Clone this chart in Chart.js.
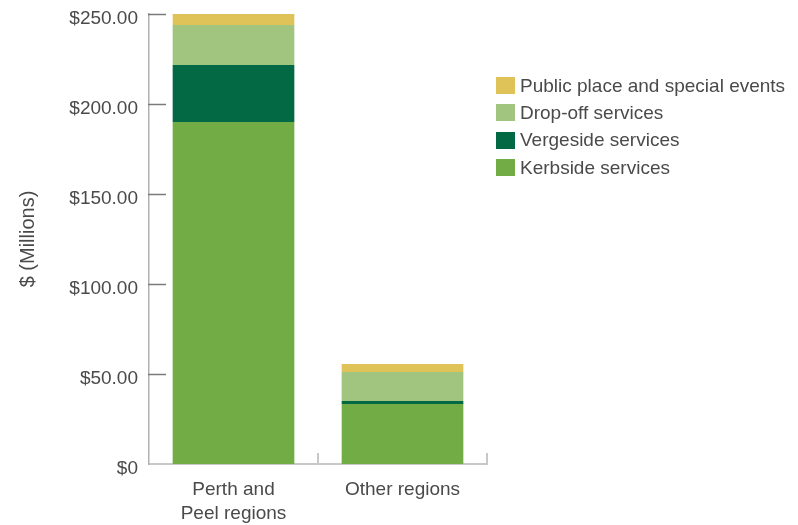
<!DOCTYPE html>
<html>
<head>
<meta charset="utf-8">
<script src="https://cdn.jsdelivr.net/npm/chart.js@4/dist/chart.umd.min.js"></script>
<style>
    html, body { margin: 0; padding: 0; background: #ffffff; }
    #wrap { position: relative; width: 798px; height: 525px; }
    #legend { position: absolute; left: 496px; top: 72px; font-family: "Liberation Sans", Arial, sans-serif; font-size: 19px; color: #4a4a4a; }
    #legend .item { display: flex; align-items: center; height: 27.3px; }
    #legend .box { width: 19px; height: 17px; margin-right: 5px; }
</style>
</head>
<body>
<div id="wrap">
    <canvas id="chartCanvas" width="798" height="525"></canvas>
    <div id="legend"></div>
</div>
<script>
const categories = [['Perth and', 'Peel regions'], 'Other regions'];
const kerbside = [190.0, 33.3];
const vergeside = [31.7, 1.7];
const dropOff = [22.2, 16.1];
const publicPlace = [6.1, 4.4];
const yTicks = [0, 50, 100, 150, 200, 250];

const textColor = '#4a4a4a';
const font = { family: '"Liberation Sans", Arial, sans-serif', size: 19, lineHeight: 1.26 };

const datasets = [
    { label: 'Kerbside services', data: kerbside, backgroundColor: '#72ac44' },
    { label: 'Vergeside services', data: vergeside, backgroundColor: '#036844' },
    { label: 'Drop-off services', data: dropOff, backgroundColor: '#a1c57f' },
    { label: 'Public place and special events', data: publicPlace, backgroundColor: '#dfc258' }
];

// short tick marks drawn inward from the axes
const axisMarks = {
    id: 'axisMarks',
    afterDraw(c) {
        const ctx = c.ctx;
        const area = c.chartArea;
        const y = c.scales.y;
        const x = c.scales.x;
        ctx.save();
        ctx.strokeStyle = '#7a7a7a';
        ctx.lineWidth = 1.5;
        yTicks.forEach(v => {
            if (v === 0) return;
            const py = Math.round(y.getPixelForValue(v)) + 0.5;
            ctx.beginPath();
            ctx.moveTo(area.left - 1, py);
            ctx.lineTo(area.left + 17, py);
            ctx.stroke();
        });
        ctx.strokeStyle = '#c8c8c8';
        ctx.lineWidth = 2;
        categories.forEach((_, i) => {
            const px = Math.round(x.getPixelForValue(i + 0.5));
            ctx.beginPath();
            ctx.moveTo(px, area.bottom);
            ctx.lineTo(px, area.bottom - 11);
            ctx.stroke();
        });
        ctx.restore();
    }
};

function noOverflow(s) {
    s.paddingTop = 0;
    s.paddingBottom = 0;
    s.paddingLeft = 0;
    s.paddingRight = 0;
}

const chart = new Chart(document.getElementById('chartCanvas').getContext('2d'), {
    type: 'bar',
    data: { labels: categories, datasets: datasets },
    options: {
        responsive: false,
        animation: false,
        layout: { padding: { top: 14, right: 311, left: 0, bottom: 0 } },
        datasets: { bar: { categoryPercentage: 1, barPercentage: 0.72 } },
        plugins: { legend: { display: false }, tooltip: { enabled: false } },
        scales: {
            x: {
                stacked: true,
                grid: { display: false },
                border: { display: true, color: '#c8c8c8', width: 2 },
                ticks: { color: textColor, font: font, padding: 6, maxRotation: 0 },
                afterFit(s) { s.height = 61; noOverflow(s); }
            },
            y: {
                stacked: true,
                min: 0,
                max: 250,
                grid: { display: false, drawTicks: false },
                border: { display: true, color: '#b0b0b0', width: 1.5 },
                ticks: {
                    stepSize: 50,
                    color: textColor,
                    font: font,
                    padding: 11,
                    labelOffset: 5,
                    callback: v => v === 0 ? '$0' : '$' + v.toFixed(2)
                },
                title: { display: true, text: '$ (Millions)', color: textColor, font: { family: font.family, size: 20 }, padding: { top: 16, bottom: 0 } },
                afterFit(s) { s.width = 149; noOverflow(s); }
            }
        }
    },
    plugins: [axisMarks]
});

// legend, top entry is the top of the stack
let html = '';
datasets.slice().reverse().forEach(d => {
    html += `<div class="item"><span class="box" style="background:${d.backgroundColor}"></span>${d.label}</div>`;
});
document.getElementById('legend').innerHTML = html;
</script>
</body>
</html>
